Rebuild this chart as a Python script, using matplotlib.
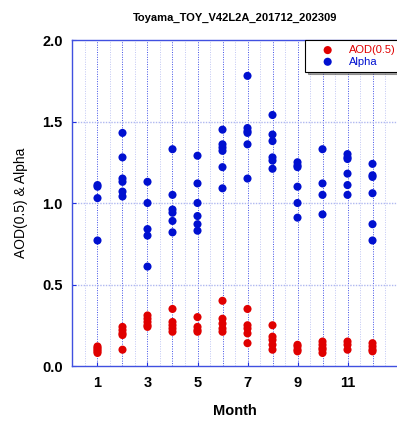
import matplotlib
matplotlib.use('Agg')
import matplotlib.pyplot as plt

plt.rcParams['font.family'] = ['Liberation Sans', 'DejaVu Sans']

# AOD(0.5) values per month
aod = {
    1: [0.12, 0.11, 0.10, 0.09, 0.08],
    2: [0.24, 0.22, 0.20, 0.19, 0.10],
    3: [0.31, 0.29, 0.27, 0.25, 0.24],
    4: [0.35, 0.27, 0.25, 0.23, 0.21],
    5: [0.30, 0.24, 0.22, 0.21],
    6: [0.40, 0.29, 0.26, 0.23, 0.21],
    7: [0.35, 0.25, 0.23, 0.20, 0.14],
    8: [0.25, 0.18, 0.16, 0.13, 0.10],
    9: [0.13, 0.12, 0.10, 0.09],
    10: [0.15, 0.13, 0.11, 0.10, 0.08],
    11: [0.15, 0.13, 0.10],
    12: [0.14, 0.12, 0.10, 0.09],
}
# Angstrom exponent per month
alpha = {
    1: [1.11, 1.10, 1.03, 0.77],
    2: [1.43, 1.28, 1.15, 1.13, 1.07, 1.04],
    3: [1.13, 1.00, 0.84, 0.80, 0.61],
    4: [1.33, 1.05, 0.96, 0.94, 0.89, 0.82],
    5: [1.29, 1.12, 1.00, 0.92, 0.87, 0.83],
    6: [1.45, 1.36, 1.34, 1.32, 1.22, 1.09],
    7: [1.78, 1.46, 1.44, 1.43, 1.36, 1.15],
    8: [1.54, 1.42, 1.38, 1.28, 1.26, 1.21],
    9: [1.25, 1.23, 1.22, 1.10, 1.00, 0.91],
    10: [1.33, 1.12, 1.05, 0.93],
    11: [1.30, 1.28, 1.27, 1.18, 1.11, 1.05],
    12: [1.24, 1.17, 1.16, 1.06, 0.87, 0.77],
}
xticks = [1, 3, 5, 7, 9, 11]
title = 'Toyama_TOY_V42L2A_201712_202309'

fig = plt.figure(figsize=(3.97, 4.22), dpi=100)
ax = fig.add_axes([0.1826, 0.1327, 0.8187, 0.7725])

# grid: dotted months, fainter half months
for m in range(1, 13):
    ax.axvline(m, color='#4050e8', linestyle=(0, (1, 1.5)), linewidth=0.7, zorder=0)
for m in [i + 0.5 for i in range(13)]:
    ax.axvline(m, color='#c0c6f4', linestyle=(0, (1, 1.5)), linewidth=0.7, zorder=0)
for v in [0.5, 1.0, 1.5]:
    ax.axhline(v, color='#b0b8f0', linestyle=(0, (1, 1)), linewidth=1.0, zorder=0)

ms = 34
first = True
for m in aod:
    ax.scatter([m] * len(aod[m]), aod[m], s=ms, color='#e00000', edgecolors='none',
               label='AOD(0.5)' if first else None, zorder=3)
    first = False
first = True
for m in alpha:
    ax.scatter([m] * len(alpha[m]), alpha[m], s=ms, color='#0010d0', edgecolors='none',
               label='Alpha' if first else None, zorder=3)
    first = False

ax.set_xlim(0, 13)
ax.set_ylim(0, 2.0)
ax.set_xticks(xticks)
ax.set_yticks([0.0, 0.5, 1.0, 1.5, 2.0])
ax.set_yticklabels(['0.0', '0.5', '1.0', '1.5', '2.0'])
for s in ax.spines.values():
    s.set_color('#4050e0')
    s.set_linewidth(1.0)
ax.spines['right'].set_visible(False)
ax.tick_params(axis='both', direction='in', length=3, color='#2030e0', labelsize=10.5, pad=7)
ax.tick_params(axis='y', right=False)
for lab in ax.get_xticklabels() + ax.get_yticklabels():
    lab.set_fontweight('bold')

ax.set_xlabel('Month', fontsize=10.5, fontweight='bold', labelpad=10)
ax.set_ylabel('AOD(0.5) & Alpha', fontsize=10, labelpad=10)
ax.set_title(title, fontsize=8, fontweight='bold', pad=13.5)

leg = ax.legend(loc='upper left', bbox_to_anchor=(0.715, 0.893, 0.33, 0.107), mode='expand',
                fontsize=8, frameon=True, fancybox=False, shadow=True, handlelength=3.2,
                handletextpad=0.3, borderpad=0.45, labelspacing=0.15, borderaxespad=0)
leg.get_frame().set_edgecolor('black')
leg.get_frame().set_linewidth(0.8)
for txt, c in zip(leg.get_texts(), ['#e00000', '#0010d0']):
    txt.set_color(c)

fig.savefig('out.png', dpi=100)
